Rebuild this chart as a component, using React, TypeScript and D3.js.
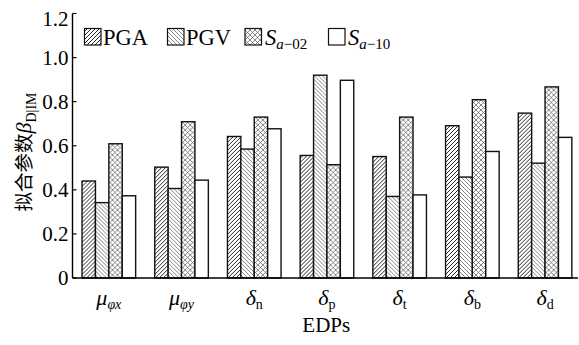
import React from "react";
import * as d3 from "d3";

const categories = ["mu_phix", "mu_phiy", "delta_n", "delta_p", "delta_t", "delta_b", "delta_d"];
const seriesKeys = ["PGA", "PGV", "Sa02", "Sa10"];
const pgaValues = [0.44, 0.503, 0.642, 0.556, 0.551, 0.691, 0.748];
const pgvValues = [0.342, 0.406, 0.585, 0.92, 0.37, 0.458, 0.521];
const sa02Values = [0.609, 0.709, 0.73, 0.514, 0.73, 0.809, 0.867];
const sa10Values = [0.373, 0.444, 0.677, 0.897, 0.377, 0.574, 0.638];
const yTicks = [0, 0.2, 0.4, 0.6, 0.8, 1.0, 1.2];

const serif = "'Liberation Serif', 'Times New Roman', serif";
const cjk = "'Noto Sans CJK SC', sans-serif";

const W = 579;
const H = 345;
const axisX = 72.5;
const axisY = 278;
const step = 72.7;

export default function App() {
  const x0 = d3.scaleBand<string>().domain(categories).range([axisX, axisX + step * categories.length]).padding(0);
  const bw = x0.bandwidth();
  const groupW = 53.6;
  const off = (bw - groupW) / 2;
  const x1 = d3.scaleBand<string>().domain(seriesKeys).range([off, off + groupW]).padding(0);
  const y = d3.scaleLinear().domain([0, 1.2]).range([axisY, 13.5]);

  const seriesData: Record<string, number[]> = {
    PGA: pgaValues,
    PGV: pgvValues,
    Sa02: sa02Values,
    Sa10: sa10Values,
  };
  const fills: Record<string, string> = {
    PGA: "url(#pPGA)",
    PGV: "url(#pPGV)",
    Sa02: "url(#pSa02)",
    Sa10: "#fff",
  };

  const renderTickLabel = (c: string) => {
    const sub = { fontSize: 14 };
    switch (c) {
      case "mu_phix":
        return (<><tspan fontStyle="italic">μ</tspan><tspan fontStyle="italic" dy={4} {...sub}>φx</tspan></>);
      case "mu_phiy":
        return (<><tspan fontStyle="italic">μ</tspan><tspan fontStyle="italic" dy={4} {...sub}>φy</tspan></>);
      default: {
        const s = c.split("_")[1];
        return (<><tspan fontStyle="italic">δ</tspan><tspan dy={4} {...sub}>{s}</tspan></>);
      }
    }
  };

  const legendItems = [
    { key: "PGA", sx: 84.5, tx: 103 },
    { key: "PGV", sx: 167.5, tx: 186 },
    { key: "Sa02", sx: 245, tx: 265 },
    { key: "Sa10", sx: 328.5, tx: 348 },
  ];

  return (
    <svg width={W} height={H} style={{ position: "absolute", left: 0, top: 0, background: "#fff" }} fontFamily={serif}>
      <defs>
        <pattern id="pPGA" patternUnits="userSpaceOnUse" width={4} height={4}>
          <rect width={4} height={4} fill="#fff" />
          <path d="M-1,1 l2,-2 M0,4 l4,-4 M3,5 l2,-2" stroke="#111" strokeWidth={0.9} />
        </pattern>
        <pattern id="pPGV" patternUnits="userSpaceOnUse" width={4} height={4}>
          <rect width={4} height={4} fill="#fff" />
          <path d="M-1,3 l2,2 M0,0 l4,4 M3,-1 l2,2" stroke="#777" strokeWidth={0.9} />
        </pattern>
        <pattern id="pSa02" patternUnits="userSpaceOnUse" width={5} height={5}>
          <rect width={5} height={5} fill="#fff" />
          <path d="M0,0 L5,5 M0,5 L5,0" stroke="#555" strokeWidth={0.7} />
        </pattern>
      </defs>

      {/* bars */}
      {categories.map((c, i) => (
        <g key={c} transform={`translate(${x0(c)},0)`}>
          {seriesKeys.map((k) => {
            const v = seriesData[k][i];
            return (
              <rect
                key={k}
                x={x1(k)}
                y={y(v)}
                width={x1.bandwidth()}
                height={axisY - y(v)}
                fill={fills[k]}
                stroke="#111"
                strokeWidth={1.4}
              />
            );
          })}
        </g>
      ))}

      {/* axes */}
      <line x1={axisX} x2={axisX} y1={13.5} y2={axisY} stroke="#000" strokeWidth={1.4} />
      <line x1={axisX} x2={578} y1={axisY} y2={axisY} stroke="#000" strokeWidth={1.4} />
      {yTicks.map((t) => (
        <g key={t}>
          <line x1={axisX} x2={axisX + 4} y1={y(t)} y2={y(t)} stroke="#000" strokeWidth={1.2} />
          <text
            x={68.5}
            y={t === 1.2 ? 19 : y(t)}
            textAnchor="end"
            dominantBaseline="central"
            fontSize={21}
          >
            {t === 0 ? "0" : d3.format(".1f")(t)}
          </text>
        </g>
      ))}

      {/* x tick labels */}
      {categories.map((c) => (
        <text key={c} x={(x0(c) as number) + bw / 2} y={305} textAnchor="middle" fontSize={22}>
          {renderTickLabel(c)}
        </text>
      ))}

      {/* x title */}
      <text x={(axisX + 578) / 2 + 1} y={332} textAnchor="middle" fontSize={21}>EDPs</text>

      {/* y title */}
      <text transform="translate(31,152) rotate(-90)" textAnchor="middle" fontSize={19.5}>
        <tspan fontFamily={cjk}>拟合参数</tspan>
        <tspan fontStyle="italic" fontSize={22}>β</tspan>
        <tspan fontSize={14} dy={5}>D|IM</tspan>
      </text>

      {/* legend */}
      {legendItems.map((it) => (
        <g key={it.key}>
          <rect x={it.sx} y={28.5} width={16.5} height={16.5} fill={fills[it.key]} stroke="#111" strokeWidth={1.2} />
          {it.key === "PGA" || it.key === "PGV" ? (
            <text x={it.tx} y={45} fontSize={22.5}>{it.key}</text>
          ) : (
            <text x={it.tx} y={45} fontSize={22.5}>
              <tspan fontStyle="italic">S</tspan>
              <tspan fontSize={15} dy={4} fontStyle="italic">a</tspan>
              <tspan fontSize={15}>{it.key === "Sa02" ? "−02" : "−10"}</tspan>
            </text>
          )}
        </g>
      ))}
    </svg>
  );
}
